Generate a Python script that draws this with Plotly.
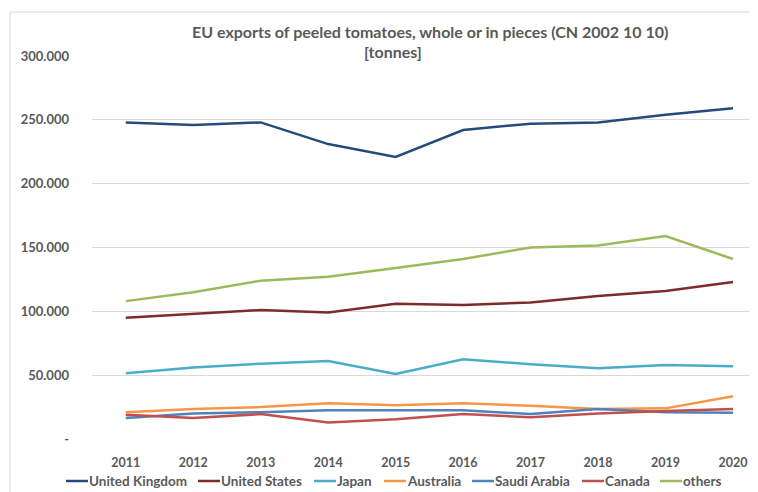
import plotly.graph_objects as go

years = [2011, 2012, 2013, 2014, 2015, 2016, 2017, 2018, 2019, 2020]
united_kingdom = [248000, 246000, 248000, 231000, 221000, 242000, 247000, 248000, 254000, 259000]
united_states = [95000, 98000, 101000, 99000, 106000, 105000, 107000, 112000, 116000, 123000]
japan = [51500, 56000, 59000, 61000, 51000, 62500, 58500, 55500, 58000, 57000]
australia = [21000, 23500, 25000, 28000, 26500, 28000, 26000, 23500, 24000, 33500]
saudi_arabia = [16500, 20000, 21000, 22500, 22500, 22500, 19500, 23500, 21000, 20500]
canada = [19000, 16500, 19500, 13000, 15500, 19500, 17000, 20000, 22000, 23500]
others = [108000, 115000, 124000, 127000, 134000, 141000, 150000, 151500, 159000, 141000]

y_ticks = [0, 50000, 100000, 150000, 200000, 250000, 300000]
y_tick_labels = ["-", "50.000", "100.000", "150.000", "200.000", "250.000", "300.000"]

series = [
    ("United Kingdom", united_kingdom, "#254B7A"),
    ("United States", united_states, "#7E2B2B"),
    ("Japan", japan, "#4BACC6"),
    ("Australia", australia, "#F79646"),
    ("Saudi Arabia", saudi_arabia, "#4F81BD"),
    ("Canada", canada, "#C0504D"),
    ("others", others, "#9BBB59"),
]

# page has an 8px body margin: figure origin sits at screen (8, 8)
OFF = 8
W, H = 750, 484
ML, MR, MT, MB = 84, 0, 48, 53
PW, PH = W - ML - MR, H - MT - MB


def px_x(p):  # screen pixel -> paper x
    return (p - OFF - ML) / PW


def px_y(p):  # screen pixel -> paper y
    return (H - MB - (p - OFF)) / PH


fig = go.Figure()
for name, vals, color in series:
    fig.add_trace(go.Scatter(
        x=years, y=vals, name=name, mode="lines",
        line=dict(color=color, width=2.5), showlegend=False,
    ))

txt = "#595959"
font_family = "Lato, Open Sans, sans-serif"

# custom legend (line sample + label), laid out left to right
legend_starts = [66, 198, 314, 384, 472, 582, 660]
shapes = [dict(
    type="rect", xref="paper", yref="paper",
    x0=px_x(10), x1=px_x(800), y0=px_y(600), y1=px_y(12),
    line=dict(color="#D9D9D9", width=1), fillcolor="rgba(0,0,0,0)",
    layer="below",
)]
annotations = [
    dict(text="EU exports of peeled tomatoes, whole or in pieces (CN 2002 10 10)",
         xref="paper", yref="paper", x=px_x(430), y=px_y(31), xanchor="center", yanchor="middle",
         showarrow=False, font=dict(size=16, color=txt, weight="bold")),
    dict(text="[tonnes]",
         xref="paper", yref="paper", x=px_x(393), y=px_y(52), xanchor="center", yanchor="middle",
         showarrow=False, font=dict(size=16, color=txt, weight="bold")),
]
for (name, vals, color), sx in zip(series, legend_starts):
    shapes.append(dict(
        type="line", xref="paper", yref="paper",
        x0=px_x(sx), x1=px_x(sx + 22), y0=px_y(481), y1=px_y(481),
        line=dict(color=color, width=2.5),
    ))
    annotations.append(dict(
        text=name, xref="paper", yref="paper", x=px_x(sx + 22), y=px_y(481),
        xanchor="left", yanchor="middle", showarrow=False, xshift=-1,
        font=dict(size=13.5, color=txt, weight="bold"),
    ))

fig.update_layout(
    width=W, height=H,
    margin=dict(l=ML, r=MR, t=MT, b=MB, autoexpand=False),
    paper_bgcolor="white", plot_bgcolor="white",
    font=dict(family=font_family, size=12, color=txt),
    showlegend=False,
    xaxis=dict(
        range=[2010.5, 2020.37],
        tickmode="array", tickvals=years, ticktext=[str(y) for y in years],
        showgrid=False, zeroline=False, showline=False, ticks="",
        tickfont=dict(size=12.5, color=txt, weight="bold"),
        ticklabelstandoff=14,
    ),
    yaxis=dict(
        range=[0, 300000],
        tickmode="array", tickvals=y_ticks, ticktext=y_tick_labels,
        showgrid=True, gridcolor="#D9D9D9", gridwidth=1,
        zeroline=False, showline=False, ticks="",
        tickfont=dict(size=13, color=txt, weight="bold"),
        ticklabelstandoff=22,
    ),
    shapes=shapes,
    annotations=annotations,
)

fig.write_html("out.html")
